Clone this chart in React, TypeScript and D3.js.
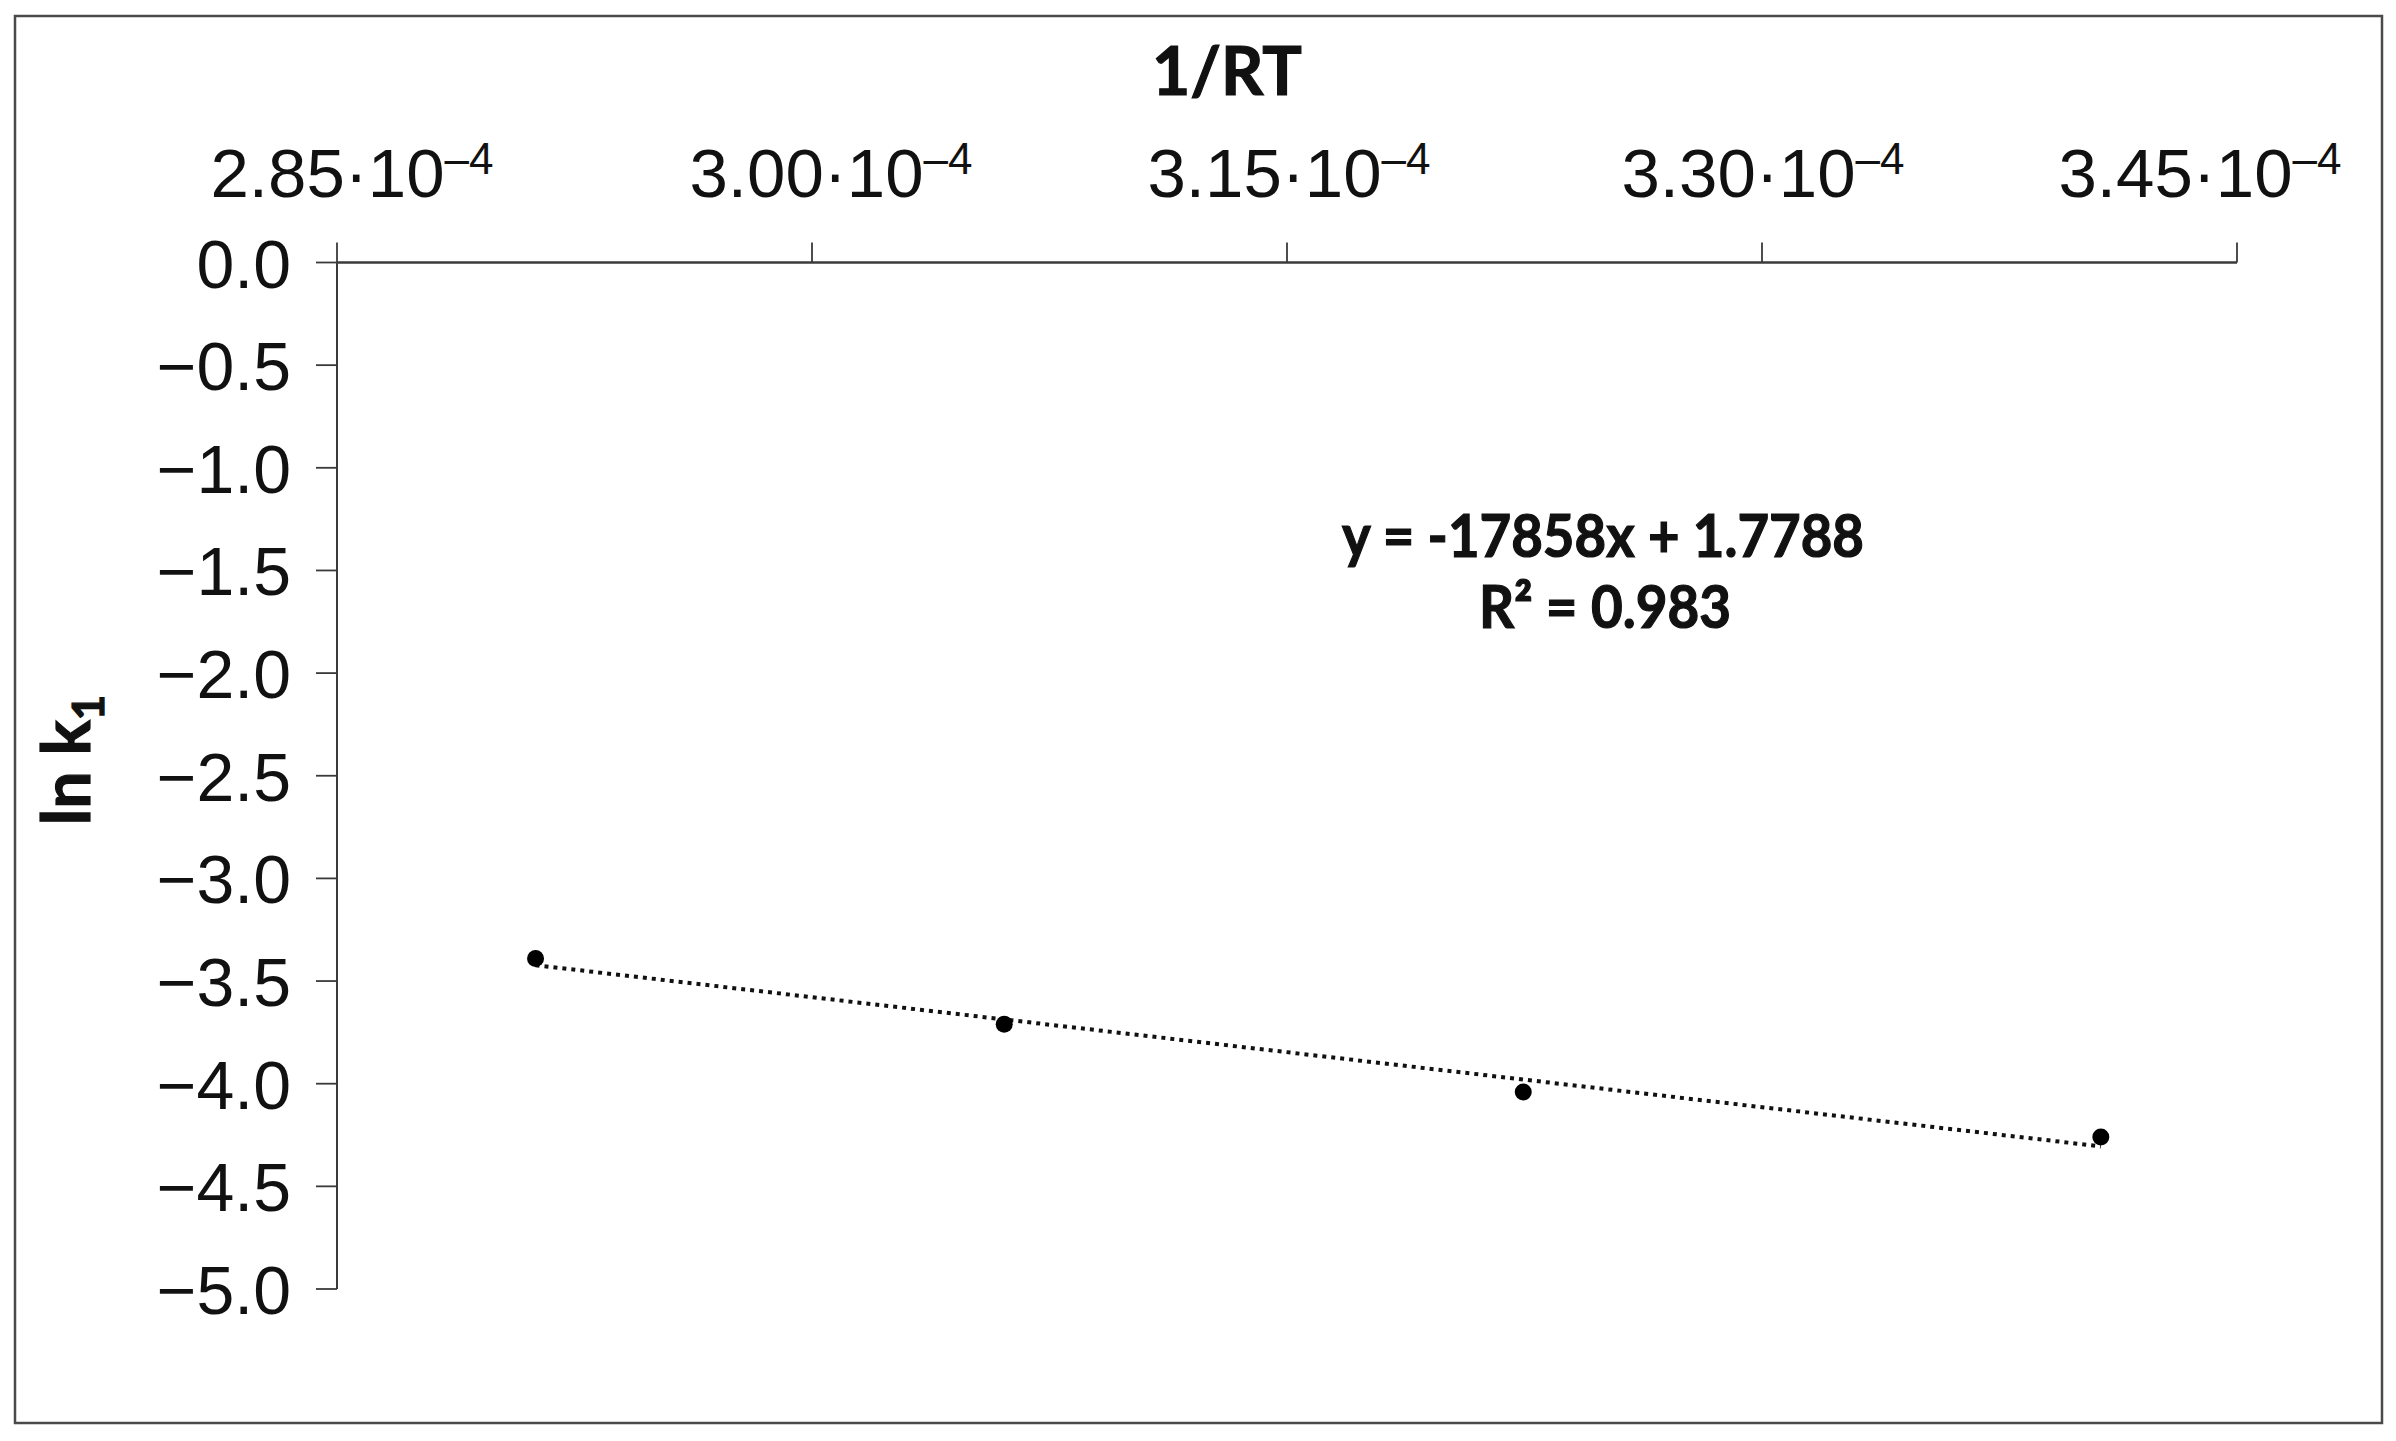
import React from "react";
import * as d3 from "d3";

// ---- data ----
const invRT = [2.9127e-4, 3.0607e-4, 3.2246e-4, 3.407e-4]; // 1/RT
const lnK1 = [-3.39, -3.71, -4.04, -4.26]; // ln k1
const xTickValues = [2.85e-4, 3.0e-4, 3.15e-4, 3.3e-4, 3.45e-4];
const xTickLabels = ["2.85", "3.00", "3.15", "3.30", "3.45"];
const yTickValues = [0, -0.5, -1, -1.5, -2, -2.5, -3, -3.5, -4, -4.5, -5];
const trendSlope = -17858;
const trendIntercept = 1.7788;
const rSquared = "0.983";

// layout
const W = 2396;
const H = 1441;
const AXIS_X0 = 337;
const AXIS_X1 = 2237;
const AXIS_Y0 = 262.5;
const AXIS_Y1 = 1289;
const X_LABEL_SHIFT = [15, 19, 2, 1, -37];

const tickFont = "'Liberation Sans', Arial, Helvetica, sans-serif";
const boldFont = "Lato, 'Open Sans', sans-serif";

export default function App() {
  const x = d3.scaleLinear().domain([2.85e-4, 3.45e-4]).range([AXIS_X0, AXIS_X1]);
  const y = d3.scaleLinear().domain([0, -5]).range([AXIS_Y0, AXIS_Y1]);

  const fmtY = (v: number) => (v === 0 ? "0.0" : "\u2212" + Math.abs(v).toFixed(1));

  const xMin = d3.min(invRT) as number;
  const xMax = d3.max(invRT) as number;
  const trend = [xMin, xMax].map((xv) => [xv, trendSlope * xv + trendIntercept] as [number, number]);
  const line = d3
    .line<[number, number]>()
    .x((d) => x(d[0]))
    .y((d) => y(d[1]));

  const axisColor = "#3a3a3a";
  const boldStroke = { stroke: "#111", strokeWidth: 1.2 };

  return (
    <svg
      width={W}
      height={H}
      viewBox={`0 0 ${W} ${H}`}
      style={{ position: "absolute", left: 0, top: 0, display: "block", background: "#fff" }}
    >
      <rect x={0} y={0} width={W} height={H} fill="#fff" />
      {/* outer frame */}
      <rect x={15} y={16} width={2367} height={1407} fill="none" stroke="#4a4a4a" strokeWidth={2.5} />

      {/* x axis (top) */}
      <line x1={AXIS_X0} x2={AXIS_X1} y1={AXIS_Y0} y2={AXIS_Y0} stroke={axisColor} strokeWidth={2.5} />
      {xTickValues.map((v, i) => (
        <g key={"xt" + i}>
          <line x1={x(v)} x2={x(v)} y1={AXIS_Y0} y2={AXIS_Y0 - 20} stroke={axisColor} strokeWidth={1.8} />
          <text
            x={x(v) + X_LABEL_SHIFT[i]}
            y={197}
            textAnchor="middle"
            fontFamily={tickFont}
            fontSize={69}
            fill="#111"
          >
            {xTickLabels[i]}
            {"\u00b710"}
            <tspan fontSize={44} dy={-23}>
              {"\u20134"}
            </tspan>
          </text>
        </g>
      ))}

      {/* y axis */}
      <line x1={AXIS_X0} x2={AXIS_X0} y1={AXIS_Y0} y2={AXIS_Y1} stroke={axisColor} strokeWidth={2} />
      {yTickValues.map((v, i) => (
        <g key={"yt" + i}>
          <line x1={AXIS_X0 - 21} x2={AXIS_X0} y1={y(v)} y2={y(v)} stroke={axisColor} strokeWidth={1.8} />
          <text
            x={291}
            y={y(v) + 25}
            textAnchor="end"
            fontFamily={tickFont}
            fontSize={68}
            fill="#111"
          >
            {fmtY(v)}
          </text>
        </g>
      ))}

      {/* axis titles */}
      <text x={1227} y={95} textAnchor="middle" fontFamily={boldFont} fontWeight={700} fontSize={66} fill="#111" {...boldStroke}>
        1/RT
      </text>
      <text
        transform="translate(90,760) rotate(-90)"
        textAnchor="middle"
        fontFamily={boldFont}
        fontWeight={700}
        fontSize={66}
        fill="#111"
        {...boldStroke}
      >
        ln k
        <tspan fontSize={44} dy={14}>
          1
        </tspan>
      </text>

      {/* trendline */}
      <path
        d={line(trend) || ""}
        fill="none"
        stroke="#111"
        strokeWidth={4}
        strokeDasharray="4 5"
      />

      {/* points */}
      {invRT.map((xv, i) => (
        <circle key={"p" + i} cx={x(xv)} cy={y(lnK1[i])} r={8.5} fill="#000" />
      ))}

      {/* equation */}
      <text
        x={1603}
        y={557}
        textAnchor="middle"
        fontFamily={boldFont}
        fontWeight={700}
        fontSize={59}
        textLength={522}
        lengthAdjust="spacingAndGlyphs"
        fill="#111"
        {...boldStroke}
      >
        {`y = ${trendSlope}x + ${trendIntercept}`}
      </text>
      <text
        x={1605}
        y={628}
        textAnchor="middle"
        fontFamily={boldFont}
        fontWeight={700}
        fontSize={59}
        textLength={252}
        lengthAdjust="spacingAndGlyphs"
        fill="#111"
        {...boldStroke}
      >
        {`R\u00b2 = ${rSquared}`}
      </text>
    </svg>
  );
}
